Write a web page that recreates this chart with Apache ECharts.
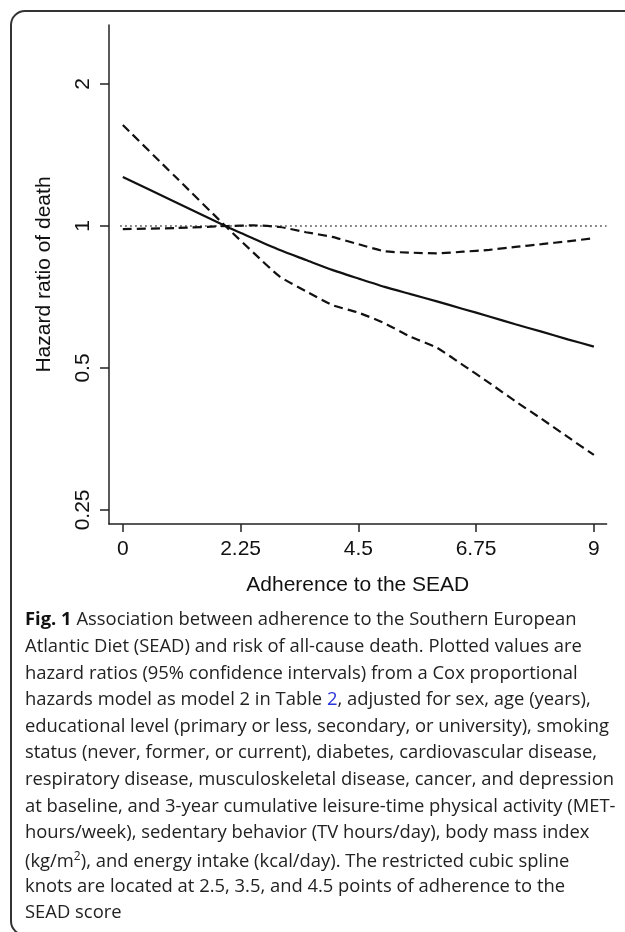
<!DOCTYPE html>
<html>
<head>
<meta charset="utf-8">
<script src="https://cdn.jsdelivr.net/npm/echarts@6/dist/echarts.min.js"></script>
<style>
html,body{margin:0;padding:0;background:#fff;}
#chart{width:625px;height:932px;}
</style>
</head>
<body>
<div id="chart"></div>
<script>
// ---- data ----
const xValues   = [0, 1, 2, 2.5, 3, 3.5, 4, 4.5, 5, 5.5, 6, 6.5, 7, 7.5, 8, 8.5, 9];
const hrEstimate = [1.27, 1.124, 0.995, 0.94, 0.889, 0.847, 0.807, 0.774, 0.743, 0.717, 0.692, 0.667, 0.643, 0.619, 0.597, 0.575, 0.555];
const ciBandA    = [0.985, 0.99, 1.0, 1.003, 0.995, 0.97, 0.948, 0.915, 0.884, 0.878, 0.875, 0.882, 0.89, 0.903, 0.915, 0.928, 0.942];
const ciBandB    = [1.637, 1.273, 0.99, 0.877, 0.781, 0.727, 0.68, 0.655, 0.622, 0.582, 0.552, 0.507, 0.465, 0.425, 0.39, 0.357, 0.327];
const refX = [-0.05, 9.24];
const refY = [1, 1];
const xTicks = [0, 2.25, 4.5, 6.75, 9];
const yTicks = [0.25, 0.5, 1, 2];
const xTitle = 'Adherence to the SEAD';
const yTitle = 'Hazard ratio of death';
const captionLines = [
  '{b|Fig. 1} Association between adherence to the Southern European',
  'Atlantic Diet (SEAD) and risk of all-cause death. Plotted values are',
  'hazard ratios (95% confidence intervals) from a Cox proportional',
  'hazards model as model 2 in Table {link|2}, adjusted for sex, age (years),',
  'educational level (primary or less, secondary, or university), smoking',
  'status (never, former, or current), diabetes, cardiovascular disease,',
  'respiratory disease, musculoskeletal disease, cancer, and depression',
  'at baseline, and 3-year cumulative leisure-time physical activity (MET-',
  'hours/week), sedentary behavior (TV hours/day), body mass index',
  '(kg/m{sup|2}), and energy intake (kcal/day). The restricted cubic spline',
  'knots are located at 2.5, 3.5, and 4.5 points of adherence to the',
  'SEAD score'
];

const pair = (xs, ys) => xs.map((x, i) => [x, ys[i]]);

const chart = echarts.init(document.getElementById('chart'), null, {renderer: 'canvas'});

const capFont = '"Open Sans", "Noto Sans", sans-serif';
const capSize = 18.4;
const capGraphics = captionLines.map((line, i) => ({
  type: 'text',
  left: 25,
  top: 611 + i * 26.65,
  style: {
    text: line,
    fill: '#222',
    font: capSize + 'px ' + capFont,
    rich: {
      b: {fontWeight: 'bold', fontSize: capSize, fontFamily: capFont, fill: '#111'},
      link: {fontSize: capSize, fontFamily: capFont, fill: '#2a35d8'},
      sup: {fontSize: 12, fontFamily: capFont, fill: '#222', verticalAlign: 'top', padding: [0,0,9,0]}
    }
  }
}));

const axisFont = '"Liberation Sans", Arial, sans-serif';

chart.setOption({
  animation: false,
  backgroundColor: '#fff',
  grid: {left: 109, top: 25, width: 497.6, height: 499, containLabel: false},
  xAxis: {
    type: 'value',
    min: -0.264, max: 9.243,
    splitLine: {show: false},
    axisLine: {show: true, onZero: false, lineStyle: {color: '#222', width: 1.5}},
    axisTick: {show: true, length: 8, lineStyle: {color: '#222', width: 1.5}, customValues: xTicks},
    axisLabel: {customValues: xTicks, margin: 15, fontSize: 21, color: '#111', fontFamily: axisFont,
      formatter: v => String(v)},
    name: xTitle, nameLocation: 'middle', nameGap: 51,
    nameTextStyle: {fontSize: 21, color: '#111', fontFamily: axisFont}
  },
  yAxis: {
    type: 'log', logBase: 2,
    min: 0.2334, max: 2.668,
    splitLine: {show: false},
    axisLine: {show: true, onZero: false, lineStyle: {color: '#222', width: 1.5}},
    axisTick: {show: true, length: 9, lineStyle: {color: '#222', width: 1.5}, customValues: yTicks},
    axisLabel: {customValues: yTicks, rotate: 90, margin: 15, fontSize: 21, color: '#111', fontFamily: axisFont,
      formatter: v => String(Math.round(v * 100) / 100)},
    name: yTitle, nameLocation: 'middle', nameGap: 54, nameRotate: 90,
    nameTextStyle: {fontSize: 21, color: '#111', fontFamily: axisFont}
  },
  series: [
    {type: 'line', name: 'ref', data: pair(refX, refY), showSymbol: false, silent: true,
      lineStyle: {color: '#333', width: 1.5, type: [1.5, 3.5]}},
    {type: 'line', name: 'upper', data: pair(xValues, ciBandA), showSymbol: false, smooth: 0.2,
      lineStyle: {color: '#111', width: 2.2, type: [9, 5]}},
    {type: 'line', name: 'lower', data: pair(xValues, ciBandB), showSymbol: false, smooth: 0.2,
      lineStyle: {color: '#111', width: 2.2, type: [9, 5]}},
    {type: 'line', name: 'HR', data: pair(xValues, hrEstimate), showSymbol: false, smooth: 0.2,
      lineStyle: {color: '#111', width: 2.2, type: 'solid'}}
  ],
  graphic: [
    {type: 'rect', left: 8.5, top: 8.5, shape: {width: 700, height: 924, r: 14},
      style: {fill: 'none', stroke: '#333', lineWidth: 2}, silent: true, z: -1},
    ...capGraphics
  ]
});
</script>
</body>
</html>
